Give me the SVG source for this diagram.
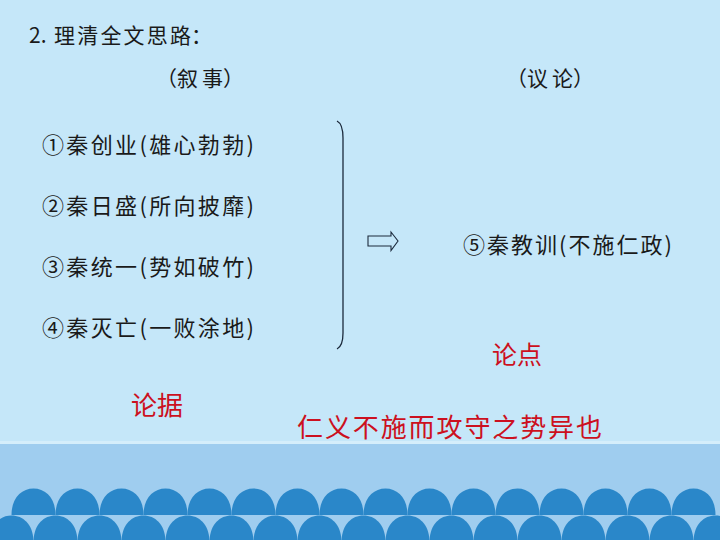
<svg xmlns="http://www.w3.org/2000/svg" xmlns:xlink="http://www.w3.org/1999/xlink" width="720" height="540" viewBox="0 0 720 540">
<defs>
<style>
.t{font-family:"Noto Sans CJK SC","Noto Sans",sans-serif;fill:#1a1a1a;text-spacing-trim:space-all;}
.r{font-family:"Noto Sans CJK SC","Noto Sans",sans-serif;fill:#cc1020;text-spacing-trim:space-all;}
.dome{fill:#2a87c9;}
</style>
<path id="d" d="M-22 0 C-22 -17 -12 -26.5 0 -26.5 C12 -26.5 22 -17 22 0 Z"/>
</defs>
<g id="background">
<rect x="0" y="0" width="720" height="540" fill="#c5e7f9"/>
<rect x="0" y="441" width="720" height="3" fill="#d5eefb"/>
<rect x="0" y="444" width="720" height="96" fill="#9fcdef"/>
</g>
<g id="domes" class="dome">
<use xlink:href="#d" x="33.5" y="515"/><use xlink:href="#d" x="77.5" y="515"/><use xlink:href="#d" x="121.5" y="515"/><use xlink:href="#d" x="165.5" y="515"/>
<use xlink:href="#d" x="209.5" y="515"/><use xlink:href="#d" x="253.5" y="515"/><use xlink:href="#d" x="297.5" y="515"/><use xlink:href="#d" x="341.5" y="515"/>
<use xlink:href="#d" x="385.5" y="515"/><use xlink:href="#d" x="429.5" y="515"/><use xlink:href="#d" x="473.5" y="515"/><use xlink:href="#d" x="517.5" y="515"/>
<use xlink:href="#d" x="561.5" y="515"/><use xlink:href="#d" x="605.5" y="515"/><use xlink:href="#d" x="649.5" y="515"/><use xlink:href="#d" x="693.5" y="515"/>
<use xlink:href="#d" x="11.5" y="542"/><use xlink:href="#d" x="55.5" y="542"/><use xlink:href="#d" x="99.5" y="542"/><use xlink:href="#d" x="143.5" y="542"/>
<use xlink:href="#d" x="187.5" y="542"/><use xlink:href="#d" x="231.5" y="542"/><use xlink:href="#d" x="275.5" y="542"/><use xlink:href="#d" x="319.5" y="542"/>
<use xlink:href="#d" x="363.5" y="542"/><use xlink:href="#d" x="407.5" y="542"/><use xlink:href="#d" x="451.5" y="542"/><use xlink:href="#d" x="495.5" y="542"/>
<use xlink:href="#d" x="539.5" y="542"/><use xlink:href="#d" x="583.5" y="542"/><use xlink:href="#d" x="627.5" y="542"/><use xlink:href="#d" x="671.5" y="542"/>
<use xlink:href="#d" x="715.5" y="542"/>
</g>
<g id="title"><text class="t" x="29" y="43" font-size="21">2.<tspan x="54" textLength="137" lengthAdjust="spacing">理清全文思路</tspan><tspan x="191">：</tspan></text></g>
<g id="head-narrative"><text class="t" y="86" font-size="21" x="156 177 202 223">（叙事）</text></g>
<g id="head-argument"><text class="t" y="86" font-size="21" x="506 527 552 573">（议论）</text></g>
<g id="item1"><text class="t" x="42" y="153" font-size="22" textLength="212" lengthAdjust="spacing">①秦创业(雄心勃勃)</text></g>
<g id="item2"><text class="t" x="42" y="214" font-size="22" textLength="212" lengthAdjust="spacing">②秦日盛(所向披靡)</text></g>
<g id="item3"><text class="t" x="42" y="275" font-size="22" textLength="212" lengthAdjust="spacing">③秦统一(势如破竹)</text></g>
<g id="item4"><text class="t" x="42" y="336" font-size="22" textLength="212" lengthAdjust="spacing">④秦灭亡(一败涂地)</text></g>
<g id="item5"><text class="t" x="463" y="253" font-size="22" textLength="209" lengthAdjust="spacing">⑤秦教训(不施仁政)</text></g>
<g id="connectors" fill="none" stroke="#1c2a3c" stroke-width="1.3">
<path d="M337 121 Q343 124 343 138 L343 333 Q343 346 337 349"/>
<path d="M368 236 L391 236 L391 232 L398 241 L391 250.5 L391 246 L368 246 Z" stroke-width="1.1"/>
</g>
<g id="label-point"><text class="r" x="492" y="364" font-size="25">论点</text></g>
<g id="label-evidence"><text class="r" x="131" y="415" font-size="26">论据</text></g>
<g id="quote"><text class="r" x="297" y="437" font-size="26" textLength="305" lengthAdjust="spacing">仁义不施而攻守之势异也</text></g>
</svg>
